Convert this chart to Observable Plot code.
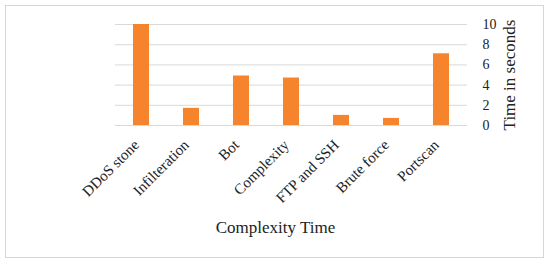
<!DOCTYPE html>
<html>
<head>
<meta charset="utf-8">
<script src="https://cdn.jsdelivr.net/npm/d3@7"></script>
<script src="https://cdn.jsdelivr.net/npm/@observablehq/plot@0.6"></script>
<style>
  html, body { margin: 0; padding: 0; background: #fff; }
  #wrap { position: relative; width: 550px; height: 263px; }
  #border { position: absolute; left: 5px; top: 5px; width: 537px; height: 251px; border: 1px solid #d6d6d6; pointer-events: none; }
  svg { font-family: "Liberation Serif", "DejaVu Serif", serif; }
</style>
</head>
<body>
<div id="wrap"><div id="border"></div><div id="chart"></div></div>
<script>
const categories = ["DDoS stone", "Infilteration", "Bot", "Complexity", "FTP and SSH", "Brute force", "Portscan"];
const times = [10.0, 1.7, 4.9, 4.7, 1.0, 0.7, 7.1];
const yTicks = [0, 2, 4, 6, 8, 10];
const xTitle = "Complexity Time";
const yTitle = "Time in seconds";

const data = categories.map((c, i) => ({category: c, time: times[i]}));

const chart = Plot.plot({
  width: 550,
  height: 263,
  marginLeft: 115,
  marginRight: 83,
  marginTop: 24,
  marginBottom: 138,
  style: {fontFamily: "'Liberation Serif', 'DejaVu Serif', serif", fontSize: "14px", color: "#222", background: "transparent"},
  x: {domain: categories, paddingInner: 0.69, paddingOuter: 0.345},
  y: {domain: [0, 10]},
  marks: [
    Plot.gridY(yTicks, {stroke: "#d9d9d9", strokeOpacity: 1, strokeWidth: 1}),
    Plot.barY(data, {x: "category", y: "time", fill: "#F5842C"}),
    Plot.axisX({tickSize: 0, tickPadding: 17, dx: -5, tickRotate: -45, fontSize: 15, label: null}),
    Plot.axisY({anchor: "right", ticks: yTicks, tickSize: 0, tickPadding: 15, fontSize: 14, label: null}),
    Plot.text([yTitle], {frameAnchor: "right", dx: 42, rotate: -90, textAnchor: "middle", lineAnchor: "middle", fontSize: 17, fill: "#222"}),
    Plot.text([xTitle], {frameAnchor: "bottom", dx: -16, dy: 102, lineAnchor: "middle", fontSize: 17, fill: "#222"})
  ]
});
document.getElementById("chart").appendChild(chart);
</script>
</body>
</html>
